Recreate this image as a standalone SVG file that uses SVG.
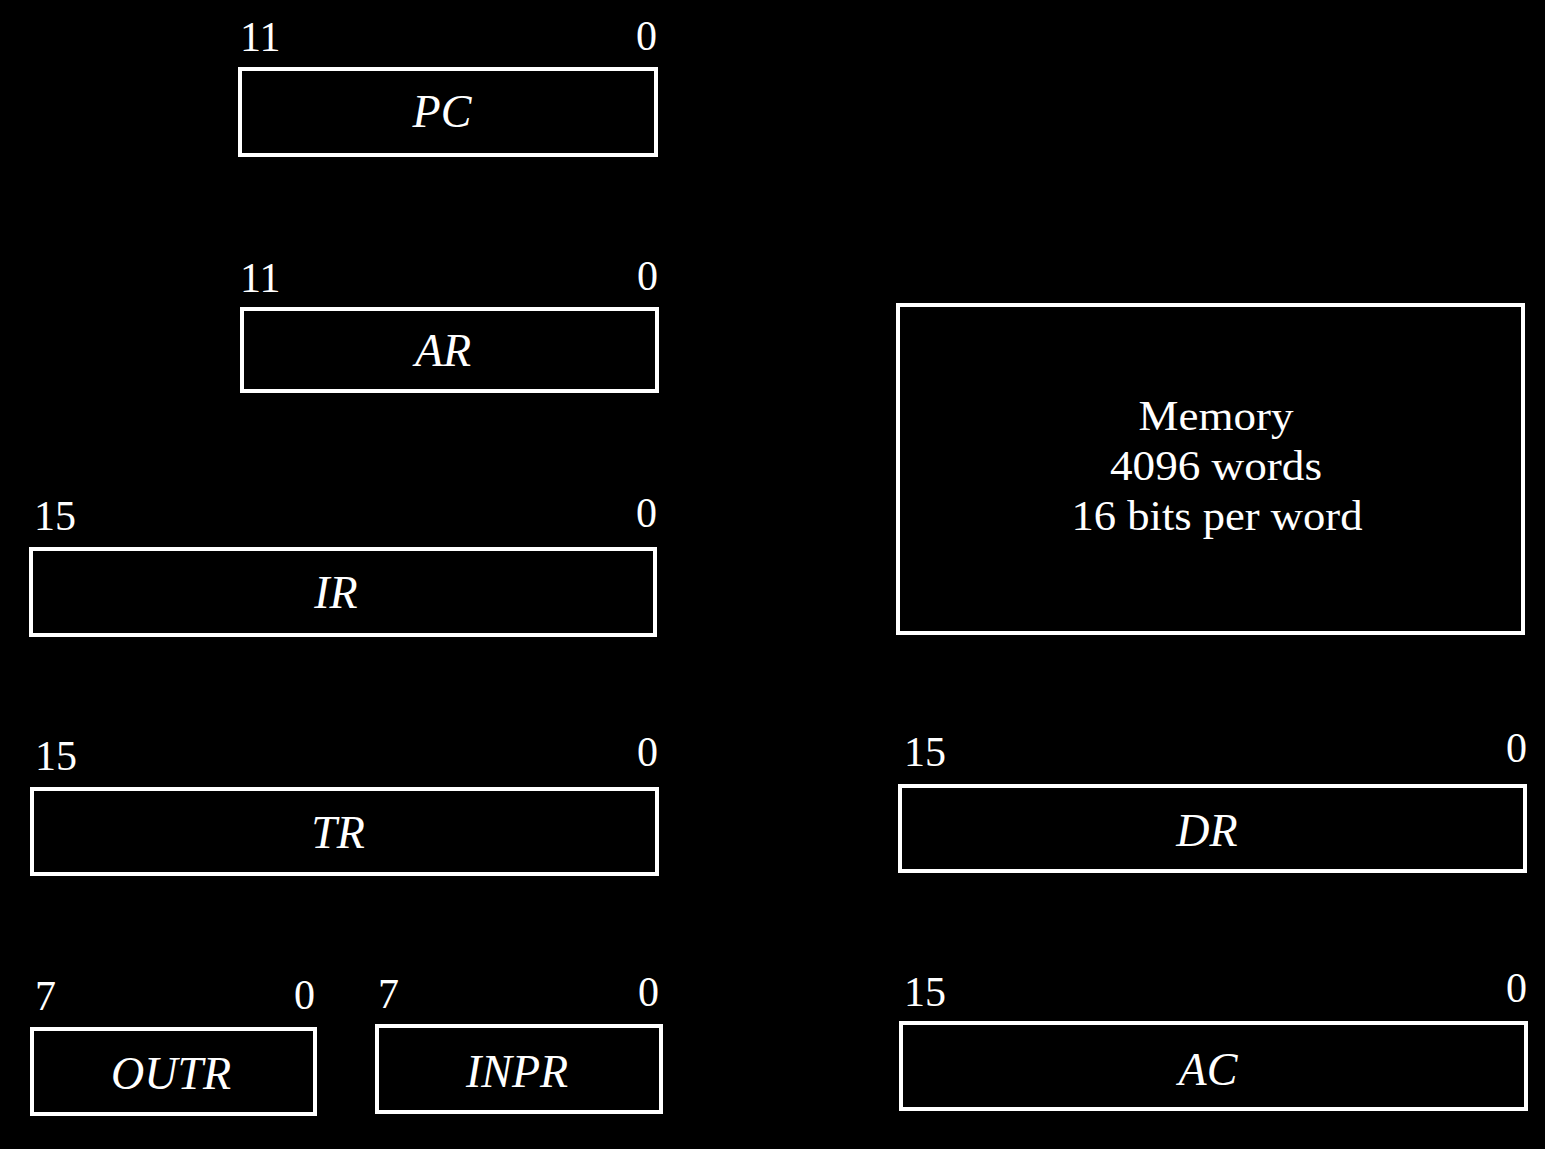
<svg xmlns="http://www.w3.org/2000/svg" width="1545" height="1149" viewBox="0 0 1545 1149">
<style>
.box{fill:none;stroke:#fff;stroke-width:4}
.num{font-family:"Liberation Serif",serif;font-size:42px;fill:#fff}
.r{text-anchor:end}
.name{font-family:"Liberation Serif",serif;font-style:italic;font-size:46px;fill:#fff;text-anchor:middle}
.mem{font-family:"Liberation Serif",serif;font-size:42px;fill:#fff;text-anchor:middle}
</style>
<rect width="1545" height="1149" fill="#000"/>
<g id="PC">
<rect class="box" x="240" y="69" width="416" height="86"/>
<text class="num" x="240" y="51">11</text>
<text class="num r" x="657" y="50">0</text>
<text class="name" x="442" y="127">PC</text>
</g>
<g id="AR">
<rect class="box" x="242" y="309" width="415" height="82"/>
<text class="num" x="240" y="292">11</text>
<text class="num r" x="658" y="290">0</text>
<text class="name" x="443" y="366">AR</text>
</g>
<g id="IR">
<rect class="box" x="31" y="549" width="624" height="86"/>
<text class="num" x="34" y="530">15</text>
<text class="num r" x="657" y="527">0</text>
<text class="name" x="336" y="608">IR</text>
</g>
<g id="TR">
<rect class="box" x="32" y="789" width="625" height="85"/>
<text class="num" x="35" y="770">15</text>
<text class="num r" x="658" y="766">0</text>
<text class="name" x="338" y="848">TR</text>
</g>
<g id="OUTR">
<rect class="box" x="32" y="1029" width="283" height="85"/>
<text class="num" x="35" y="1010">7</text>
<text class="num r" x="315" y="1009">0</text>
<text class="name" x="171" y="1089">OUTR</text>
</g>
<g id="INPR">
<rect class="box" x="377" y="1026" width="284" height="86"/>
<text class="num" x="378" y="1008">7</text>
<text class="num r" x="659" y="1006">0</text>
<text class="name" x="517" y="1087">INPR</text>
</g>
<g id="Memory">
<rect class="box" x="898" y="305" width="625" height="328"/>
<text class="mem" x="1216" y="430" textLength="155" lengthAdjust="spacingAndGlyphs">Memory</text>
<text class="mem" x="1216" y="480" textLength="212" lengthAdjust="spacingAndGlyphs">4096 words</text>
<text class="mem" x="1217" y="530" textLength="291" lengthAdjust="spacingAndGlyphs">16 bits per word</text>
</g>
<g id="DR">
<rect class="box" x="900" y="786" width="625" height="85"/>
<text class="num" x="904" y="766">15</text>
<text class="num r" x="1527" y="762">0</text>
<text class="name" x="1207" y="846">DR</text>
</g>
<g id="AC">
<rect class="box" x="901" y="1023" width="625" height="86"/>
<text class="num" x="904" y="1006">15</text>
<text class="num r" x="1527" y="1002">0</text>
<text class="name" x="1208" y="1085">AC</text>
</g>
<g id="connectors"/>
</svg>
